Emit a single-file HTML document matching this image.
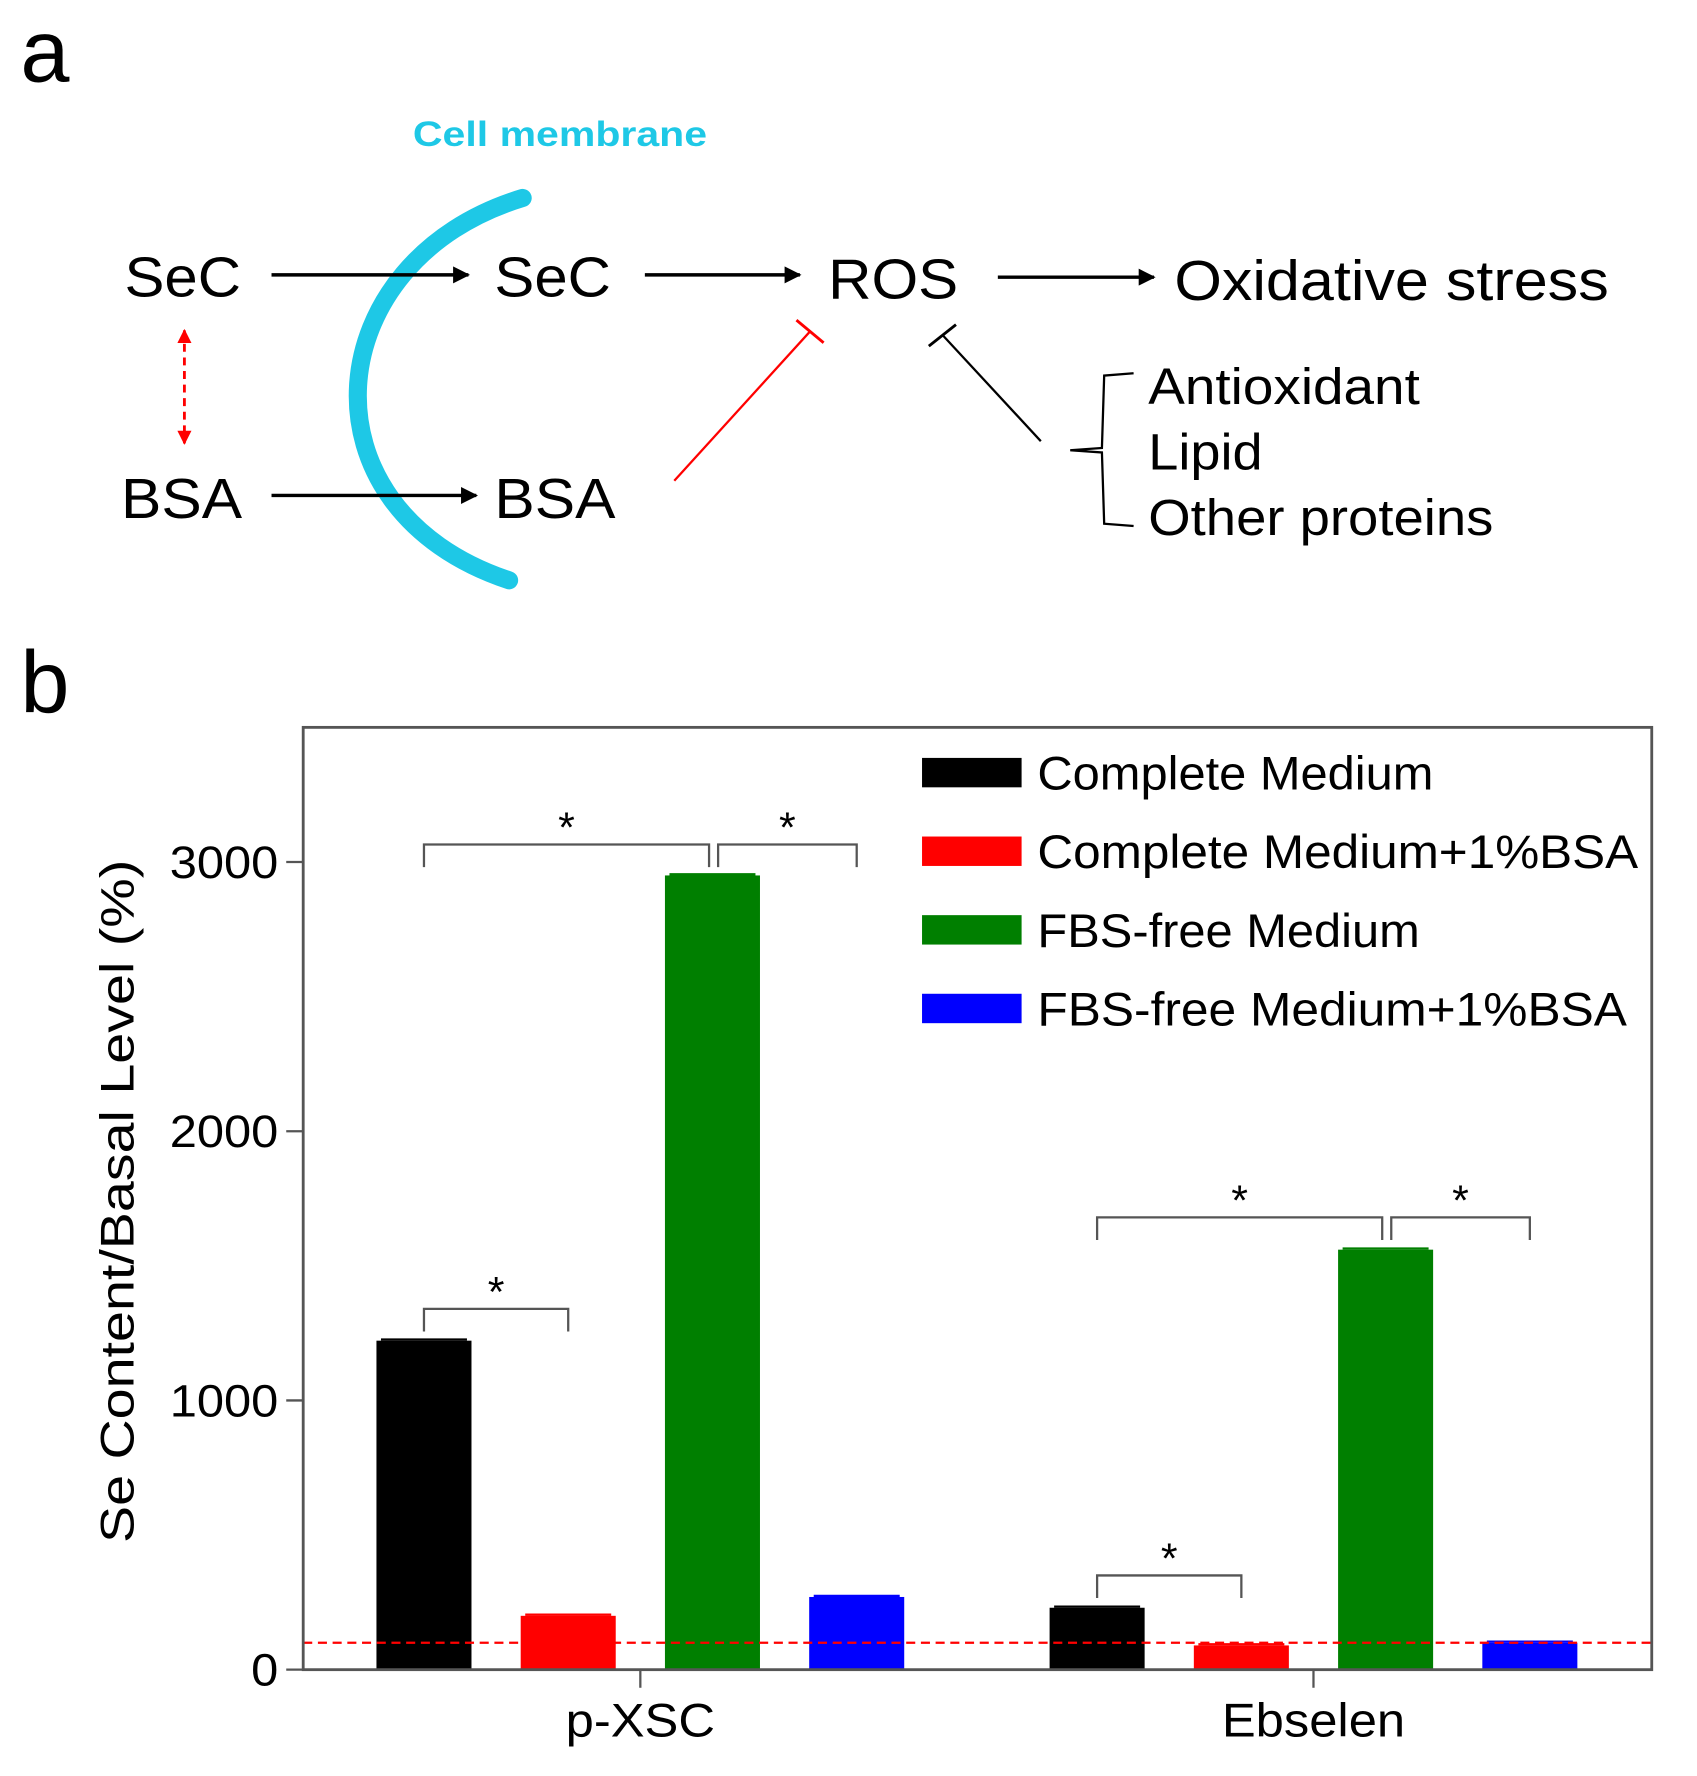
<!DOCTYPE html>
<html><head><meta charset="utf-8">
<style>html,body{margin:0;padding:0;background:#fff}svg{display:block}text{font-family:"Liberation Sans",sans-serif}</style>
</head><body>
<svg id="fig" width="1697" height="1776" viewBox="0 0 1500 1570" preserveAspectRatio="none" xmlns="http://www.w3.org/2000/svg">
<defs>
<marker id="ah" viewBox="0 0 10 10" refX="9" refY="5" markerWidth="5" markerHeight="5" orient="auto"><path d="M0,0L10,5L0,10z" fill="#000"/></marker>
<marker id="ahr" viewBox="0 0 10 10" refX="9" refY="5" markerWidth="5" markerHeight="5" orient="auto-start-reverse"><path d="M0,0L10,5L0,10z" fill="#f00"/></marker>
</defs>
<g>
<text x="18" y="72" font-size="78">a</text>
<text x="365" y="129" font-size="31" font-weight="bold" fill="#1ec8e6" textLength="260" lengthAdjust="spacingAndGlyphs">Cell membrane</text>
<path d="M462,175 C280,230 260,450 450,513" fill="none" stroke="#1ec8e6" stroke-width="16" stroke-linecap="round"/>
<text x="110" y="262" font-size="50" textLength="103" lengthAdjust="spacingAndGlyphs">SeC</text>
<text x="437" y="262" font-size="50" textLength="103" lengthAdjust="spacingAndGlyphs">SeC</text>
<text x="732" y="264" font-size="50" textLength="115" lengthAdjust="spacingAndGlyphs">ROS</text>
<text x="1038" y="265" font-size="50" textLength="384" lengthAdjust="spacingAndGlyphs">Oxidative stress</text>
<text x="107" y="458" font-size="50" textLength="107" lengthAdjust="spacingAndGlyphs">BSA</text>
<text x="437" y="458" font-size="50" textLength="107" lengthAdjust="spacingAndGlyphs">BSA</text>
<line x1="240" y1="243" x2="414" y2="243" stroke="#000" stroke-width="3" marker-end="url(#ah)"/>
<line x1="570" y1="243" x2="707" y2="243" stroke="#000" stroke-width="3" marker-end="url(#ah)"/>
<line x1="882" y1="245" x2="1020" y2="245" stroke="#000" stroke-width="3" marker-end="url(#ah)"/>
<line x1="240" y1="438" x2="421" y2="438" stroke="#000" stroke-width="3" marker-end="url(#ah)"/>
<line x1="163" y1="292" x2="163" y2="392" stroke="#f00" stroke-width="2.5" stroke-dasharray="7,5" marker-start="url(#ahr)" marker-end="url(#ahr)"/>
<line x1="596" y1="425" x2="716" y2="293" stroke="#f00" stroke-width="2"/>
<line x1="704" y1="283" x2="728" y2="303" stroke="#f00" stroke-width="2.5"/>
<line x1="920" y1="390" x2="833" y2="296" stroke="#000" stroke-width="2"/>
<line x1="821" y1="306" x2="845" y2="287" stroke="#000" stroke-width="2.5"/>
<path d="M1002,330 L976,332 L974,396 L946,398 L974,400 L976,463 L1002,465" fill="none" stroke="#000" stroke-width="2"/>
<text x="1015" y="357" font-size="45" textLength="240" lengthAdjust="spacingAndGlyphs">Antioxidant</text>
<text x="1015" y="415" font-size="45" textLength="101" lengthAdjust="spacingAndGlyphs">Lipid</text>
<text x="1015" y="473" font-size="45" textLength="305" lengthAdjust="spacingAndGlyphs">Other proteins</text>
<text x="18" y="630" font-size="78">b</text>
</g>
<g id="chart"></g>
</svg>
<script>
const groups = ["p-XSC", "Ebselen"];
const seriesNames = ["Complete Medium", "Complete Medium+1%BSA", "FBS-free Medium", "FBS-free Medium+1%BSA"];
const seriesColors = ["#000000", "#ff0000", "#007f00", "#0000ff"];
const valuesPXSC = [1222, 200, 2950, 270];
const valuesEbselen = [230, 90, 1560, 100];
const yTicks = [0, 1000, 2000, 3000];
const baseline = 100;
// brackets: [group, barA, barB, height]
const bracketsData = [[0,0,2,3065],[0,2,3,3065],[0,0,1,1340],[1,0,2,1680],[1,2,3,1680],[1,0,1,350]];
const legendWidths = [350, 531, 338, 521];
const xLabelWidths = [132, 162];

const NS = "http://www.w3.org/2000/svg";
const g = document.getElementById('chart');
const L=268,R=1460,T=643,B=1476;
const yS = v => B - v*0.238;
const groupCenter = i => 566 + i*595;
const barCenter = (gi,si) => groupCenter(gi) + (si-1.5)*127.5;
const BW=84;
function mk(tag, attrs){const e=document.createElementNS(NS,tag);for(const k in attrs)e.setAttribute(k,attrs[k]);g.appendChild(e);return e;}

const allVals=[valuesPXSC,valuesEbselen];
allVals.forEach((vals,gi)=>{vals.forEach((v,si)=>{
  const r=mk('rect',{x:barCenter(gi,si)-BW/2,y:yS(v),width:BW,height:B-yS(v),fill:seriesColors[si]});
  
  
  const e=mk('line',{x1:barCenter(gi,si)-BW/2+4,x2:barCenter(gi,si)+BW/2-4,y1:yS(v)-1,y2:yS(v)-1,stroke:seriesColors[si],'stroke-width':2});
  
  
});});

const bl=mk('line',{x1:L,x2:R,y1:yS(baseline),y2:yS(baseline),stroke:'#f00','stroke-width':2,'stroke-dasharray':'8,5'});



bracketsData.forEach(b=>{
  const x1=barCenter(b[0],b[1])+(b[1]===2?5:0), x2=barCenter(b[0],b[2])-(b[2]===2?3:0), y=yS(b[3]);
  const p=mk('path',{d:`M${x1},${y+20}L${x1},${y}L${x2},${y}L${x2},${y+20}`,fill:'none',stroke:'#555','stroke-width':2});
  
  
  const s=mk('text',{x:(x1+x2)/2,y:y-2,'font-size':38,'text-anchor':'middle'});s.textContent='*';
  
  
});

const fr=mk('rect',{x:L,y:T,width:R-L,height:B-T,fill:'none',stroke:'#555','stroke-width':2.5});



yTicks.forEach(t=>{
  const l=mk('line',{x1:L-15,x2:L,y1:yS(t),y2:yS(t),stroke:'#555','stroke-width':2});
  
  
  const s=String(t);
  const tx=mk('text',{x:L-22-s.length*24,y:yS(t)+14,'font-size':40,textLength:s.length*24,lengthAdjust:'spacingAndGlyphs'});tx.textContent=s;
  
  
});
groups.forEach((n,gi)=>{
  const l=mk('line',{x1:groupCenter(gi),x2:groupCenter(gi),y1:B,y2:B+16,stroke:'#555','stroke-width':2});
  
  
  const tx=mk('text',{x:groupCenter(gi)-xLabelWidths[gi]/2,y:1535,'font-size':42,textLength:xLabelWidths[gi],lengthAdjust:'spacingAndGlyphs'});tx.textContent=n;
  
  
});
const yt=mk('text',{x:-302,y:0,'font-size':42,textLength:604,lengthAdjust:'spacingAndGlyphs',transform:'translate(118,1062) rotate(-90)'});
yt.textContent='Se Content/Basal Level (%)';



seriesNames.forEach((n,i)=>{
  const y=683+i*69.5;
  const sw=mk('rect',{x:815,y:y-13,width:88,height:26,fill:seriesColors[i]});
  
  
  const tx=mk('text',{x:917,y:y+15,'font-size':42,textLength:legendWidths[i],lengthAdjust:'spacingAndGlyphs'});tx.textContent=n;
  
  
});
</script>
</body></html>
